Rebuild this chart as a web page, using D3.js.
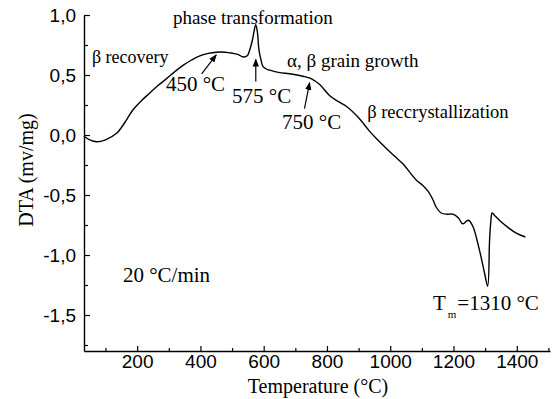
<!DOCTYPE html>
<html>
<head>
<meta charset="utf-8">
<script src="https://cdn.jsdelivr.net/npm/d3@7"></script>
<style>
  body { margin: 0; background: #fff; }
  svg { display: block; }
</style>
</head>
<body>
<svg class="dta" width="554" height="399"></svg>
<script>
// DTA curve, values
var temps = [32, 50, 72, 100, 135, 160, 187, 215, 240, 265, 293, 320, 345, 372, 398, 425, 450, 478, 503, 520, 535, 548, 556, 565, 570, 575, 580, 585, 592, 598, 608, 619, 650, 682, 724, 750, 777, 808, 835, 861, 898, 935, 960, 987, 1015, 1040, 1082, 1103, 1120, 1135, 1145, 1161, 1180, 1198, 1215, 1229, 1240, 1247, 1261, 1282, 1298, 1308, 1314, 1318, 1322, 1330, 1345, 1377, 1400, 1427];
var dta = [-0.01, -0.04, -0.056, -0.04, 0.014, 0.1, 0.21, 0.29, 0.35, 0.41, 0.47, 0.53, 0.58, 0.625, 0.66, 0.68, 0.69, 0.69, 0.68, 0.67, 0.65, 0.66, 0.71, 0.8, 0.87, 0.92, 0.86, 0.71, 0.62, 0.57, 0.55, 0.54, 0.52, 0.51, 0.49, 0.47, 0.42, 0.33, 0.28, 0.24, 0.15, 0.03, -0.04, -0.11, -0.18, -0.24, -0.375, -0.42, -0.47, -0.54, -0.6, -0.65, -0.66, -0.66, -0.69, -0.74, -0.72, -0.71, -0.76, -0.96, -1.15, -1.26, -0.875, -0.72, -0.65, -0.67, -0.71, -0.78, -0.82, -0.85];

var xTicks = [200, 400, 600, 800, 1000, 1200, 1400];
var xMinor = [100, 300, 500, 700, 900, 1100, 1300, 1500];
var yTicks = [-1.5, -1.0, -0.5, 0.0, 0.5, 1.0];
var yMinor = [-1.75, -1.25, -0.75, -0.25, 0.25, 0.75];

// annotations, anchored in data units
var labels = [
    { t: 313, v: 0.925, text: "phase transformation", size: 19 },
    { t: 57, v: 0.6, text: "\u03b2 recovery", size: 18 },
    { t: 291, v: 0.367, text: "450 \u00b0C", size: 21 },
    { t: 500, v: 0.267, text: "575 \u00b0C", size: 21 },
    { t: 674, v: 0.567, text: "\u03b1, \u03b2 grain growth", size: 19 },
    { t: 658, v: 0.05, text: "750 \u00b0C", size: 21 },
    { t: 927, v: 0.142, text: "\u03b2 reccrystallization", size: 18.5 },
    { t: 155, v: -1.225, text: "20 \u00b0C/min", size: 21 }
];
var arrows = [
    { from: [404, 0.51], to: [450, 0.667] },
    { from: [575, 0.445], to: [575, 0.63] },
    { from: [729, 0.22], to: [745, 0.436] }
];

var serif = "'Liberation Serif', 'Times New Roman', Times, serif";
var sans = "'Liberation Sans', Arial, Helvetica, sans-serif";

var svg = d3.select(".dta");

var x = d3.scaleLinear().domain([32, 1505]).range([84, 550]);
var y = d3.scaleLinear().domain([-1.8, 1.0]).range([351, 15]);

var loc = d3.formatLocale({ decimal: ",", thousands: ".", grouping: [3], currency: ["", ""], minus: "-" });
var fmt = loc.format(".1f");

// minor ticks first, no labels
svg.append("g")
    .attr("transform", "translate(0," + y.range()[0] + ")")
    .call(d3.axisBottom(x).tickValues(xMinor).tickSize(-3).tickFormat(""))
    .call(g => g.select(".domain").remove());
svg.append("g")
    .attr("transform", "translate(" + x.range()[0] + ",0)")
    .call(d3.axisLeft(y).tickValues(yMinor).tickSize(-4).tickFormat(""))
    .call(g => g.select(".domain").remove());

var xAxis = svg.append("g")
    .attr("transform", "translate(0," + y.range()[0] + ")")
    .call(d3.axisBottom(x).tickValues(xTicks).tickSize(-5).tickSizeOuter(0).tickPadding(4).tickFormat(d3.format("d")));
var yAxis = svg.append("g")
    .attr("transform", "translate(" + x.range()[0] + ",0)")
    .call(d3.axisLeft(y).tickValues(yTicks).tickSize(-6).tickSizeOuter(0).tickPadding(8).tickFormat(fmt));

svg.selectAll(".tick line").attr("stroke", "#000").attr("stroke-width", 1.2);
svg.selectAll(".domain").attr("stroke", "#000").attr("stroke-width", 1.4);
xAxis.selectAll("text")
    .style("font-family", sans)
    .style("font-size", "19px")
    .attr("fill", "#000");
yAxis.selectAll("text")
    .style("font-family", sans)
    .style("font-size", "19px")
    .attr("fill", "#000");

// axis titles
svg.append("text")
    .attr("x", 318)
    .attr("y", 393)
    .attr("text-anchor", "middle")
    .style("font-family", serif)
    .style("font-size", "20px")
    .text("Temperature (\u00b0C)");
svg.append("text")
    .attr("transform", "translate(33,170) rotate(-90)")
    .attr("text-anchor", "middle")
    .style("font-family", serif)
    .style("font-size", "20px")
    .text("DTA (mv/mg)");

// curve
var pts = temps.map((t, i) => [t, dta[i]]);
svg.append("path")
    .datum(pts)
    .attr("fill", "none")
    .attr("stroke", "#000")
    .attr("stroke-width", 1.4)
    .attr("d", d3.line()
        .x(d => x(d[0]))
        .y(d => y(d[1]))
        .curve(d3.curveCatmullRom));

// annotation texts
svg.selectAll(".note")
    .data(labels)
    .enter().append("text")
    .attr("class", "note")
    .attr("x", d => x(d.t))
    .attr("y", d => y(d.v))
    .style("font-family", serif)
    .style("font-size", d => d.size + "px")
    .text(d => d.text);

// melting point with subscript
var tm = svg.append("text")
    .attr("x", x(1135))
    .attr("y", y(-1.458))
    .style("font-family", serif)
    .style("font-size", "21px");
tm.append("tspan").text("T");
tm.append("tspan").attr("dx", 2).attr("dy", 8).style("font-size", "11px").text("m");
tm.append("tspan").attr("dx", 1).attr("dy", -8).text("=1310 \u00b0C");

// arrows
svg.append("defs").append("marker")
    .attr("id", "head")
    .attr("viewBox", "0 0 10 10")
    .attr("refX", 9)
    .attr("refY", 5)
    .attr("markerWidth", 8)
    .attr("markerHeight", 8)
    .attr("markerUnits", "userSpaceOnUse")
    .attr("orient", "auto")
    .append("path")
    .attr("d", "M0,1 L10,5 L0,9 Z")
    .attr("fill", "#000");

svg.selectAll(".arrow")
    .data(arrows)
    .enter().append("line")
    .attr("class", "arrow")
    .attr("x1", d => x(d.from[0]))
    .attr("y1", d => y(d.from[1]))
    .attr("x2", d => x(d.to[0]))
    .attr("y2", d => y(d.to[1]))
    .attr("stroke", "#000")
    .attr("stroke-width", 1.2)
    .attr("marker-end", "url(#head)");
</script>
</body>
</html>
